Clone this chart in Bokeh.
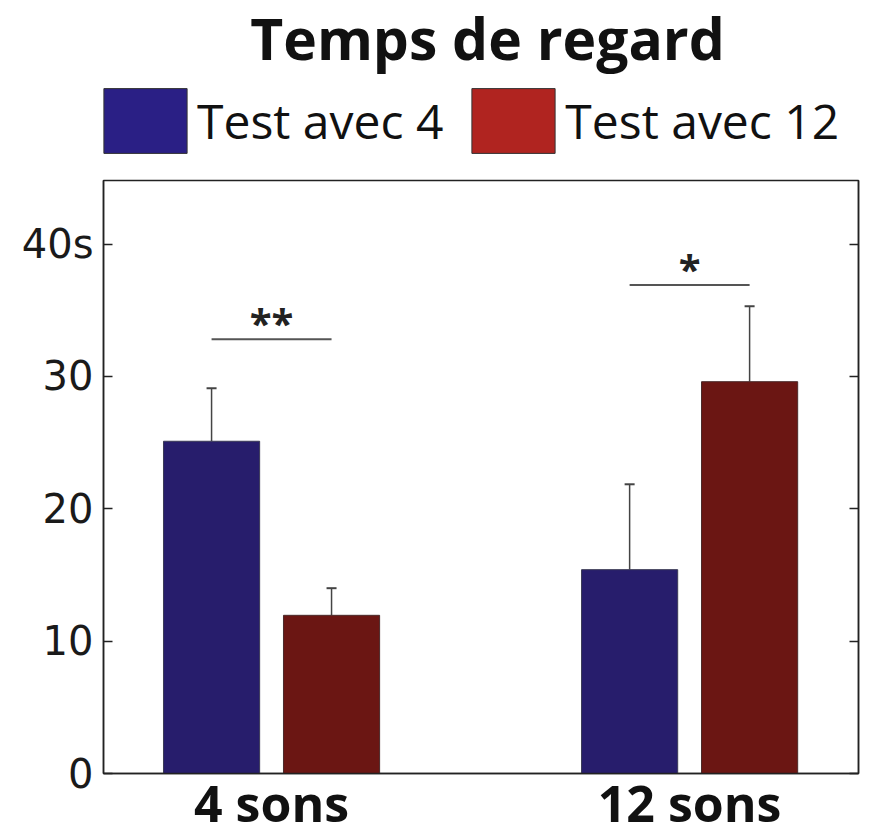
from bokeh.plotting import figure
from bokeh.layouts import column
from bokeh.models import (Range1d, FixedTicker, LinearAxis, Whisker, TeeHead,
                          ColumnDataSource, Legend, LegendItem)
from bokeh.core.properties import value
from bokeh.embed import file_html
from bokeh.resources import INLINE

# ---- data ----
title_text = "Temps de regard"
groups = ["4 sons", "12 sons"]
series = ["Test avec 4", "Test avec 12"]
test4 = [25.1, 15.4]
test4_err = [4.0, 6.45]
test12 = [11.95, 29.6]
test12_err = [2.05, 5.7]
sig_y = [32.8, 36.9]
sig_labels = ["**", "*"]
y_ticks = [0, 10, 20, 30, 40]
y_tick_labels = ["0", "10", "20", "30", "40s"]

# ---- styling ----
BAR_BLUE = "#271d6c"
BAR_RED = "#6b1613"
LEG_BLUE = "#2a1f85"
LEG_RED = "#b02420"
OFFSET = 0.1435
BAR_W = 0.23
W = 870
TOP_H = 178
FRAME_L, FRAME_R = 103, 858

gpos = [i + 1 for i in range(len(groups))]
x4 = [g - OFFSET for g in gpos]
x12 = [g + OFFSET for g in gpos]
src4 = ColumnDataSource(dict(x=x4, top=test4, up=[v + e for v, e in zip(test4, test4_err)]))
src12 = ColumnDataSource(dict(x=x12, top=test12, up=[v + e for v, e in zip(test12, test12_err)]))

# ---------- header figure: title + legend ----------
head = figure(width=W, height=TOP_H, output_backend="svg", toolbar_location=None,
              x_range=Range1d(FRAME_L, FRAME_R), y_range=Range1d(0, TOP_H),
              min_border=0, x_axis_type=None, y_axis_type=None)
head.grid.visible = False
head.outline_line_color = None
head.text(x=[487], y=[TOP_H - 37], text=[title_text], text_font=value("Open Sans"),
          text_font_style="bold", text_font_size="57px", text_color="#111111",
          text_align="center", text_baseline="alphabetic")
h1 = head.vbar(x="x", top="top", width=BAR_W, source=src4, fill_color=LEG_BLUE,
               line_color="#333333", visible=False)
h2 = head.vbar(x="x", top="top", width=BAR_W, source=src12, fill_color=LEG_RED,
               line_color="#333333", visible=False)
legend = Legend(items=[LegendItem(label=series[0], renderers=[h1]),
                       LegendItem(label=series[1], renderers=[h2])],
                orientation="horizontal", location=(-10, 17),
                glyph_width=104, glyph_height=81, label_standoff=0, spacing=18,
                padding=0, margin=0, border_line_color=None,
                background_fill_alpha=0, label_height=81,
                label_text_font="Open Sans", label_text_font_size="48px",
                label_text_color="#111111")
head.add_layout(legend, "center")

# ---------- chart figure ----------
p = figure(width=W, height=839 - TOP_H, output_backend="svg", toolbar_location=None,
           x_range=Range1d(0.598, 2.404), y_range=Range1d(0, 44.8),
           min_border_left=FRAME_L, min_border_right=W - FRAME_R, min_border_top=2,
           min_border_bottom=66)
p.background_fill_color = "white"
p.border_fill_color = "white"
p.grid.visible = False
p.outline_line_color = "#222222"
p.outline_line_width = 1.5

p.vbar(x="x", top="top", width=BAR_W, bottom=0, source=src4,
       fill_color=BAR_BLUE, line_color="#3a3a55", line_width=1)
p.vbar(x="x", top="top", width=BAR_W, bottom=0, source=src12,
       fill_color=BAR_RED, line_color="#4a2a2a", line_width=1)

for src in (src4, src12):
    w = Whisker(source=src, base="x", lower="top", upper="up",
                line_color="#444444", line_width=1.5,
                lower_head=None, upper_head=TeeHead(size=10, line_color="#444444", line_width=2))
    p.add_layout(w)

p.segment(x0=x4, x1=x12, y0=sig_y, y1=sig_y, line_color="#555555", line_width=2)
p.text(x=gpos, y=sig_y, text=sig_labels, text_font=value("Open Sans"),
       text_font_style="bold", text_font_size="40px", text_color="#222222",
       text_align="center", text_baseline="alphabetic", y_offset=-17)

xa = p.xaxis[0]
xa.ticker = FixedTicker(ticks=gpos)
xa.major_label_overrides = {g: name for g, name in zip(gpos, groups)}
xa.major_label_text_font = "Open Sans"
xa.major_label_text_font_style = "bold"
xa.major_label_text_font_size = "50px"
xa.major_label_text_line_height = 0.68
xa.major_label_text_color = "#111111"
xa.major_tick_line_color = None
xa.major_tick_in = 0
xa.major_tick_out = 0
xa.minor_tick_line_color = None
xa.major_label_standoff = -5
xa.axis_line_color = "#222222"
xa.axis_line_width = 1.5

ya = p.yaxis[0]
ya.ticker = FixedTicker(ticks=y_ticks)
ya.major_label_overrides = {t: l for t, l in zip(y_ticks, y_tick_labels)}
ya.major_label_text_font = "DejaVu Sans"
ya.major_label_text_font_size = "40px"
ya.major_label_text_color = "#1a1a1a"
ya.major_tick_in = 9
ya.major_tick_out = 0
ya.major_tick_line_width = 1.5
ya.major_tick_line_color = "#222222"
ya.minor_tick_line_color = None
ya.major_label_standoff = 10
ya.axis_line_color = "#222222"
ya.axis_line_width = 1.5

ra = LinearAxis(ticker=FixedTicker(ticks=y_ticks),
                major_label_overrides={t: "" for t in y_ticks},
                major_tick_in=9, major_tick_out=0, major_tick_line_width=1.5,
                major_tick_line_color="#222222", minor_tick_line_color=None,
                axis_line_color="#222222", axis_line_width=1.5,
                major_label_standoff=0)
p.add_layout(ra, "right")

layout = column(head, p, spacing=0)
open("out.html", "w").write(file_html(layout, INLINE))
